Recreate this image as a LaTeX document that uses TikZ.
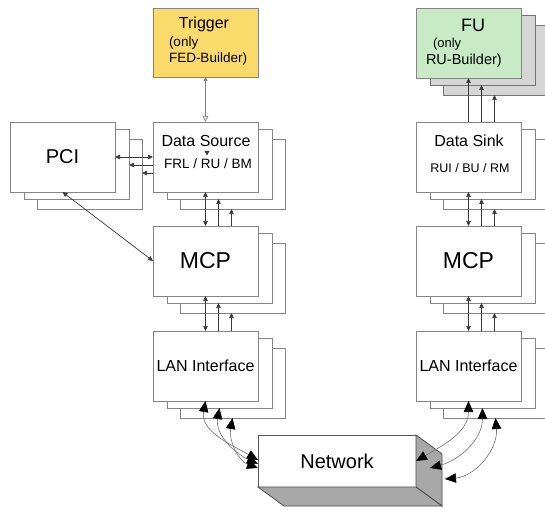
\documentclass[tikz,border=0pt]{standalone}
\usepackage{fontspec}
\setmainfont{Liberation Sans}
\usetikzlibrary{arrows.meta,calc}

\definecolor{trigyellow}{HTML}{F9DA6B}
\definecolor{fugreen}{HTML}{C8EAC4}
\definecolor{fugrey}{HTML}{D6D6D6}
\definecolor{boxedge}{HTML}{858585}
\definecolor{wirecol}{HTML}{3A3A3A}
\definecolor{sidegrey}{HTML}{A8A8A8}
\definecolor{curvecol}{HTML}{707070}

\newcommand\fsz[1]{\fontsize{#1}{#1}\selectfont}

% two shifted copies behind a board: <name>b and <name>c
\newcommand\backlayers[4][]{%
  \node[box,#1] (#2c) at (#3+27,#4+17) {};
  \node[box,#1] (#2b) at (#3+14,#4+7) {};
}

% wires between two stacked boards
\newcommand\stacklink[3]{%
  \draw[wire,#3] (#1.south) -- (#2.north);
  \coordinate (tA) at ($(#2.north)+(13,0)$);
  \coordinate (tB) at ($(#2.north)+(26,0)$);
  \draw[wire,-sm] (tA) -- (tA |- #1b.south);
  \draw[wire,-sm] (tB) -- (tB |- #1c.south);
}

\begin{document}
\begin{tikzpicture}[x=1pt,y=-1pt,
  sm/.tip={Triangle[length=5pt,width=4.5pt]},
  bg/.tip={Triangle[length=11pt,width=9.5pt,color=black]},
  box/.style={draw=boxedge,line width=0.9pt,fill=white,minimum width=105pt,
    minimum height=70pt,inner sep=0pt,outer sep=0pt,anchor=north west},
  wire/.style={draw=wirecol,line width=0.7pt},
  curv/.style={draw=curvecol,line width=0.6pt,bg-bg},
  txt/.style={inner sep=0pt,outer sep=0pt,text=black}
]
\clip (0,0) rectangle (545,510);
\fill[white] (0,0) rectangle (545,510);

% ---- source side ----
\node[box,fill=trigyellow,minimum height=69pt] (trig) at (153,8) {};
\backlayers{ds}{153}{122}
\node[box] (ds) at (153,122) {};
\backlayers{mcpL}{153}{226}
\node[box,font=\fsz{23}] (mcpL) at (153,226) {MCP};
\backlayers{lanL}{153}{331}
\node[box,font=\fsz{16}] (lanL) at (153,331) {LAN Interface};
\backlayers{pci}{10}{122}
\node[box,font=\fsz{20}] (pci) at (10,122) {PCI};

% ---- sink side ----
\backlayers[fill=fugrey,draw=gray!90!black]{fu}{416}{8}
\node[box,fill=fugreen] (fu) at (416,8) {};
\backlayers{dsk}{416}{122}
\node[box] (dsk) at (416,122) {};
\backlayers{mcpR}{416}{226}
\node[box,font=\fsz{23}] (mcpR) at (416,226) {MCP};
\backlayers{lanR}{416}{331}
\node[box,font=\fsz{16}] (lanR) at (416,331) {LAN Interface};

% ---- network block ----
\node[box,draw=gray!70!black,minimum width=158pt,minimum height=52pt,font=\fsz{20}] (net) at (258,435) {Network};
\filldraw[fill=sidegrey,draw=gray!60!black,line width=0.8pt]
  (net.north east) -- ++(26,19) -- ++(0,52) -- (net.south east) -- cycle;
\filldraw[fill=sidegrey,draw=gray!60!black,line width=0.8pt]
  (net.south west) -- (net.south east) -- ++(26,19) -- ++(-158,0) -- cycle;

% ---- texts ----
\node[txt,font=\fsz{16},anchor=base] (trigT) at (204,29) {Trigger};
\node[txt,font=\fsz{13.5},anchor=base west] (trigA) at (169,47) {(only};
\node[txt,font=\fsz{13.5},anchor=base west] (trigB) at (169,63) {FED-Builder)};
\node[txt,font=\fsz{18},anchor=base] (fuT) at (473,32) {FU};
\node[txt,font=\fsz{13},anchor=base west] (fuA) at (433,48) {(only};
\node[txt,font=\fsz{14.5},anchor=base west] (fuB) at (426,65) {RU-Builder)};
\node[txt,font=\fsz{16},anchor=base] (dsT) at (206,147) {Data Source};
\node[txt,font=\fsz{13.5},anchor=base] (dsB) at (208,169) {FRL / RU / BM};
\fill[wirecol] (204.5,151) -- (209.5,151) -- (207,155.5) -- cycle;
\node[txt,font=\fsz{16},anchor=base] (dskT) at (469,147) {Data Sink};
\node[txt,font=\fsz{12.5},anchor=base] (dskB) at (470,173) {RUI / BU / RM};

% ---- wires ----
\draw[draw=gray,line width=0.7pt,{Triangle[length=4pt,width=4pt]}-{Triangle[open,length=6pt,width=5.5pt]}]
  (trig.south) -- (ds.north);
\stacklink{ds}{mcpL}{sm-sm}
\stacklink{mcpL}{lanL}{sm-sm}
\stacklink{fu}{dsk}{sm-}
\stacklink{dsk}{mcpR}{sm-sm}
\stacklink{mcpR}{lanR}{sm-sm}

\draw[wire,sm-sm] (ds.west) -- (ds.west -| pci.east);
\coordinate (pA) at ($(ds.west)+(0,8)$);
\coordinate (pB) at ($(ds.west)+(0,16)$);
\draw[wire,-sm] (pA) -- (pA -| pcib.east);
\draw[wire,-sm] (pB) -- (pB -| pcic.east);
\draw[wire,sm-sm] (pci.south) -- (mcpL.west);

% ---- links to the network ----
\draw[curv] (lanL.south)  to[out=-100,in=150] ($(net.west)+(0,-1)$);
\draw[curv] (lanLb.south) to[out=-100,in=155] ($(net.west)+(0,3)$);
\draw[curv] (lanLc.south) to[out=-100,in=160] ($(net.west)+(0,7)$);
\draw[curv] (lanR.south)  to[out=-90,in=30] (net.east);
\draw[curv] (lanRb.south) to[out=-90,in=15] ($(net.east)+(14,7)$);
\draw[curv] (lanRc.south) to[out=-85,in=5] ($(net.east)+(29,18)$);
\end{tikzpicture}
\end{document}
